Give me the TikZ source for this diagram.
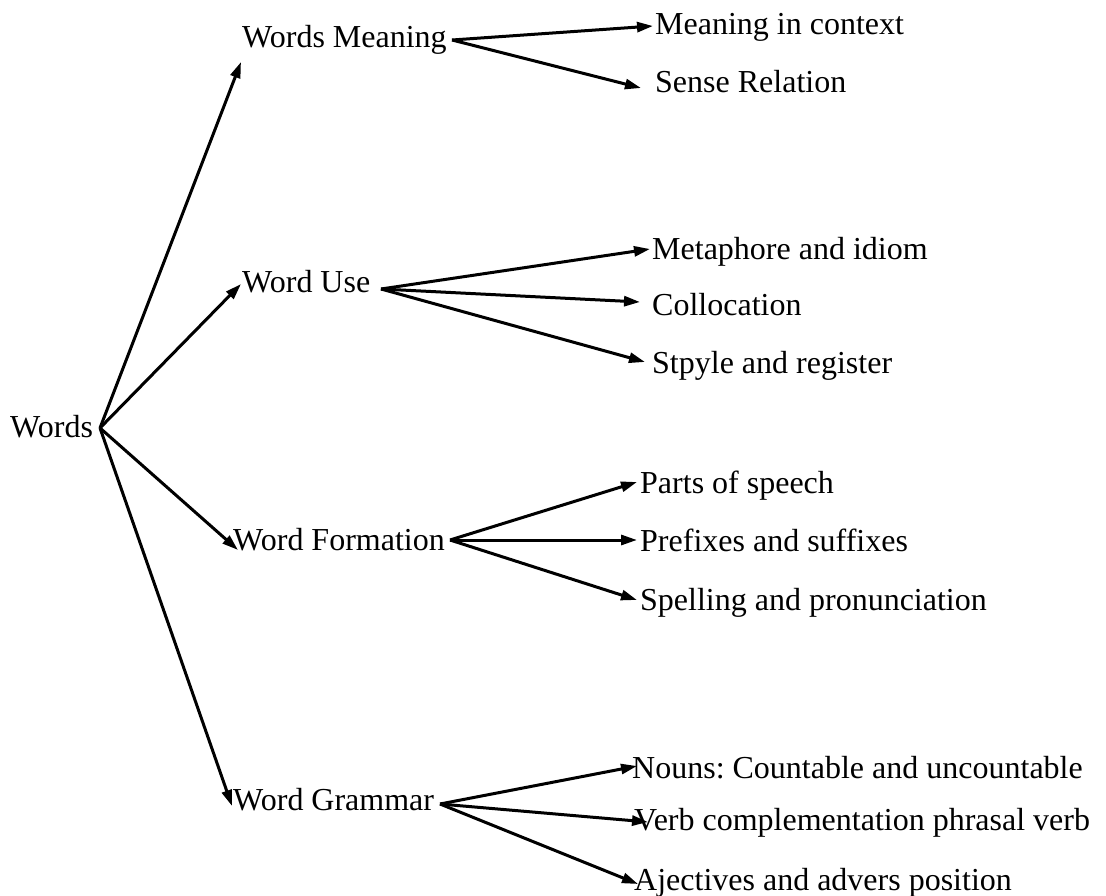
\documentclass[tikz,border=0pt]{standalone}
\usepackage{fontspec}
\setmainfont{Liberation Serif}
\usetikzlibrary{arrows.meta}
\tikzset{
  lbl/.style={anchor=base west, inner sep=0pt, font=\fontsize{32}{38}\selectfont\frenchspacing},
  arr/.style={line width=3pt, -{Triangle[length=16pt,width=10pt]}},
}
\begin{document}
\begin{tikzpicture}[x=1pt,y=-1pt]
\useasboundingbox (0,0) rectangle (1106,896);
% nodes (base west positions)
\node[lbl] (w)   at (10,437)  {Words};
\node[lbl] (wm)  at (242,48)  {Words Meaning};
\node[lbl] (wu)  at (242,292) {Word Use};
\node[lbl] (wf)  at (233,550) {Word Formation};
\node[lbl] (wg)  at (233,810) {Word Grammar};
\node[lbl] (m1)  at (655,35)  {Meaning in context};
\node[lbl] (m2)  at (655,93)  {Sense Relation};
\node[lbl] (u1)  at (652,259) {Metaphore and idiom};
\node[lbl] (u2)  at (652,316) {Collocation};
\node[lbl] (u3)  at (652,373) {Stpyle and register};
\node[lbl] (f1)  at (640,493) {Parts of speech};
\node[lbl] (f2)  at (640,551) {Prefixes and suffixes};
\node[lbl] (f3)  at (640,610) {Spelling and pronunciation};
\node[lbl] (g1)  at (632,778) {Nouns: Countable and uncountable};
\node[lbl] (g2)  at (634,830) {Verb complementation phrasal verb};
\node[lbl] (g3)  at (634,890) {Ajectives and advers position};
% hubs
\coordinate (hw)  at (100,428);
\coordinate (hwm) at (452,40);
\coordinate (hwu) at (381,289);
\coordinate (hwf) at (450,540);
\coordinate (hwg) at (440,804);
% tips
\coordinate (twm) at (241,62);
\coordinate (twu) at (241,284);
\coordinate (twf) at (238,550);
\coordinate (twg) at (232,806);
\coordinate (tm1) at (653,26);
\coordinate (tm2) at (641,88);
\coordinate (tu1) at (650,249);
\coordinate (tu2) at (640,302);
\coordinate (tu3) at (645,362);
\coordinate (tf1) at (637,482);
\coordinate (tf2) at (637,540);
\coordinate (tf3) at (637,600);
\coordinate (tg1) at (637,766);
\coordinate (tg2) at (648,822);
\coordinate (tg3) at (638,884);
% connectors
\draw[arr] (hw) -- (twm);
\draw[arr] (hw) -- (twu);
\draw[arr] (hw) -- (twf);
\draw[arr] (hw) -- (twg);
\draw[arr] (hwm) -- (tm1);
\draw[arr] (hwm) -- (tm2);
\draw[arr] (hwu) -- (tu1);
\draw[arr] (hwu) -- (tu2);
\draw[arr] (hwu) -- (tu3);
\draw[arr] (hwf) -- (tf1);
\draw[arr] (hwf) -- (tf2);
\draw[arr] (hwf) -- (tf3);
\draw[arr] (hwg) -- (tg1);
\draw[arr] (hwg) -- (tg2);
\draw[arr] (hwg) -- (tg3);
\end{tikzpicture}
\end{document}
